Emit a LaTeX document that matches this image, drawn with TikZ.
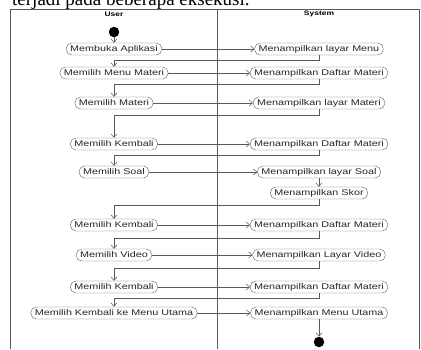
\documentclass[tikz,border=0pt]{standalone}
\usepackage{fontspec}
\newfontfamily\actfont{Liberation Sans}[FakeStretch=1.3]
\newfontfamily\capfont{Liberation Serif}
\usetikzlibrary{positioning,arrows.meta}

\begin{document}
\begin{tikzpicture}[%
    x=1pt, y=1pt,
    >={Straight Barb[length=3.5pt,width=6pt]},
    node distance=205pt,
    on grid,
    act/.style={draw=gray!75!black, rounded corners=5.5pt, fill=white,
      font=\actfont\fontsize{8.3}{9}\selectfont, text=black!85,
      inner xsep=4pt, inner ysep=1pt, minimum height=12pt},
    lane/.style={font=\actfont\bfseries\fontsize{6.5}{7}\selectfont},
    dot/.style={circle, fill=black, minimum size=10.5pt, inner sep=0pt},
    flow/.style={draw=gray!70!black, line width=0.5pt},
    frame/.style={draw=gray!70!black, line width=0.6pt}
  ]
    \useasboundingbox (0,0) rectangle (421,-349);

    % caption line cut off by the page
    \node[anchor=base west, inner sep=0pt, font=\capfont\fontsize{19}{20}\selectfont] (cap) at (12,-5.5) {terjadi pada beberapa eksekusi.};

    % swimlanes
    \draw[frame] (10,-349) -- (10,-9.5) -- (419.5,-9.5) -- (419.5,-349);
    \draw[frame] (217,-9.5) -- (217,-349);
    \node[lane] (user) at (114,-14) {User};
    \node[lane] (system) [right=of user] {System};

    \node[dot] (start) at (114,-32) {};

    % user side
    \node[act] (u1) at (114,-49)  {Membuka Aplikasi};
    \node[act] (u2) at (114,-73)  {Memilih Menu Materi};
    \node[act] (u3) at (114,-103) {Memilih Materi};
    \node[act] (u4) at (114,-144) {Memilih Kembali};
    \node[act] (u5) at (114,-172) {Memilih Soal};
    \node[act] (u6) at (114,-225) {Memilih Kembali};
    \node[act] (u7) at (114,-255) {Memilih Video};
    \node[act] (u8) at (114,-287) {Memilih Kembali};
    \node[act] (u9) at (114,-313) {Memilih Kembali ke Menu Utama};

    % system side
    \node[act] (s1) [right=of u1] {Menampilkan layar Menu};
    \node[act] (s2) [right=of u2] {Menampilkan Daftar Materi};
    \node[act] (s3) [right=of u3] {Menampilkan layar Materi};
    \node[act] (s4) [right=of u4] {Menampilkan Daftar Materi};
    \node[act] (s5) [right=of u5] {Menampilkan layar Soal};
    \node[act] (skor) [below=21pt of s5] {Menampilkan Skor};
    \node[act] (s6) [right=of u6] {Menampilkan Daftar Materi};
    \node[act] (s7) [right=of u7] {Menampilkan Layar Video};
    \node[act] (s8) [right=of u8] {Menampilkan Daftar Materi};
    \node[act] (s9) [right=of u9] {Menampilkan Menu Utama};

    \node[dot] (stop) [below=29pt of s9] {};

    \path[flow, ->] (start) edge (u1)
              (u1) edge (s1)
              (u2) edge (s2)
              (u3) edge (s3)
              (u4) edge (s4)
              (u5) edge (s5)
              (s5) edge (skor)
              (u6) edge (s6)
              (u7) edge (s7)
              (u8) edge (s8)
              (u9) edge (s9)
              (s9) edge (stop);

    \draw[flow, ->] (s1.south) -- ++(0,-5) -| (u2.north);
    \draw[flow, ->] (s2.south) -- ++(0,-5) -| (u3.north);
    \draw[flow, ->] (s3.south) -- ++(0,-6) -| (u4.north);
    \draw[flow, ->] (s4.south) -- ++(0,-5) -| (u5.north);
    \draw[flow, ->] (skor.south) -- ++(0,-6) -| (u6.north);
    \draw[flow, ->] (s6.south) -- ++(0,-7) -| (u7.north);
    \draw[flow, ->] (s7.south) -- ++(0,-7) -| (u8.north);
    \draw[flow, ->] (s8.south) -- ++(0,-5) -| (u9.north);
\end{tikzpicture}
\end{document}
